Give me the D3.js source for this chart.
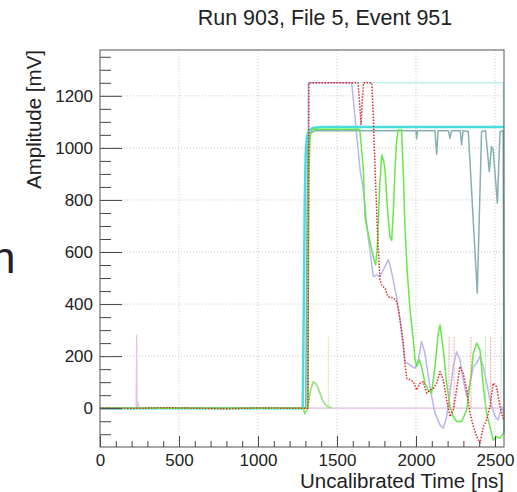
<!DOCTYPE html>
<html>
<head>
<meta charset="utf-8">
<script src="https://cdn.jsdelivr.net/npm/d3@7"></script>
<style>
  body { margin: 0; background: #fff; }
  text { font-family: "Liberation Sans", Arial, Helvetica, sans-serif; fill: #222; }
</style>
</head>
<body>
<svg id="chart" width="517" height="492"></svg>
<script>
// axis ticks
var xMajor = [0, 500, 1000, 1500, 2000, 2500];
var yMajor = [0, 200, 400, 600, 800, 1000, 1200];

// light cyan channel (saturated at 1250)
var lcyanT = [0, 1310, 1318, 2552, 2557];
var lcyanV = [0, 0, 1250, 1250, -96];

// pink channel, flat with a spike near 230 ns
var pinkT = [0, 228, 232, 235, 240, 248, 2557];
var pinkV = [0, 0, 282, 0, 25, 0, 0];

// lavender channel
var lavT = [0, 1316, 1320, 1593, 1646, 1667, 1697, 1719, 1730, 1751, 1772, 1793, 1825, 1835, 1856, 1877, 1899, 1930, 1962, 1994, 2015, 2035, 2057, 2078, 2099, 2120, 2152, 2173, 2194, 2215, 2236, 2257, 2278, 2299, 2321, 2342, 2363, 2384, 2405, 2426, 2447, 2468, 2500, 2521, 2542, 2555];
var lavV = [0, 0, 1250, 1250, 915, 838, 658, 557, 506, 512, 506, 531, 570, 551, 493, 429, 339, 179, 166, 154, 186, 256, 211, 121, 45, -19, -64, -77, -32, 58, 160, 217, 186, 109, 45, 96, 160, 173, 198, 160, 96, 32, -32, -45, 6, -20];

// cyan channel
var cyanT = [0, 1283, 1290, 1296, 1302, 1310, 1325, 1345, 1400, 2557];
var cyanV = [0, 0, 400, 800, 980, 1045, 1068, 1076, 1080, 1080];

// teal channel, with dips late in the window
var tealT = [0, 1302, 1310, 1316, 1330, 1360, 2000, 2004, 2010, 2120, 2131, 2140, 2205, 2215, 2225, 2280, 2289, 2298, 2331, 2388, 2415, 2440, 2464, 2478, 2489, 2515, 2532, 2552, 2557];
var tealV = [0, 0, 700, 1000, 1055, 1066, 1066, 1035, 1066, 1066, 975, 1066, 1066, 1037, 1066, 1066, 1011, 1066, 1063, 442, 1063, 1066, 909, 1005, 990, 788, 1063, 1066, -96];

// small green pulse
var gpulseT = [0, 1287, 1297, 1307, 1319, 1333, 1350, 1371, 1392, 1413, 1434, 1470];
var gpulseV = [0, 0, -22, -10, 19, 70, 102, 90, 58, 25, 9, 0];

// green channel
var greenT = [0, 1316, 1322, 1330, 1345, 1640, 1646, 1667, 1677, 1688, 1709, 1730, 1745, 1755, 1770, 1783, 1795, 1804, 1820, 1835, 1846, 1857, 1867, 1878, 1888, 1909, 1920, 1930, 1945, 1962, 1983, 1994, 2004, 2021, 2035, 2057, 2078, 2099, 2120, 2141, 2152, 2173, 2194, 2215, 2236, 2257, 2289, 2321, 2342, 2363, 2384, 2405, 2426, 2447, 2468, 2489, 2510, 2532, 2553];
var greenV = [0, 0, 900, 1050, 1072, 1072, 1060, 915, 736, 698, 640, 580, 551, 620, 850, 973, 950, 915, 760, 660, 644, 760, 915, 1030, 1069, 1069, 900, 700, 520, 380, 262, 186, 160, 186, 160, 96, 70, 58, 160, 288, 320, 224, 96, 6, -32, -51, -51, -7, 96, 211, 250, 224, 83, -19, -71, -122, -109, -115, -96];

// red channel (dotted)
var redT = [0, 200, 400, 600, 800, 1000, 1200, 1316, 1322, 1633, 1642, 1652, 1660, 1668, 1720, 1730, 1741, 1759, 1772, 1785, 1804, 1823, 1854, 1873, 1886, 1899, 1920, 1930, 1941, 1962, 1983, 2004, 2025, 2046, 2068, 2089, 2110, 2131, 2152, 2173, 2194, 2215, 2236, 2257, 2278, 2299, 2321, 2342, 2363, 2384, 2405, 2426, 2447, 2468, 2489, 2510, 2532, 2553];
var redV = [1, -1, 2, 0, -2, 1, 0, 0, 1250, 1250, 1180, 1090, 1180, 1250, 1250, 1120, 915, 640, 493, 470, 462, 428, 424, 416, 389, 339, 250, 173, 115, 109, 102, 70, 96, 102, 58, 70, 77, 96, 141, 109, 32, -32, -7, 70, 160, 134, 70, -19, -71, -109, -134, -71, -45, 6, 96, 83, 6, -45];

// thin vertical spikes
var spikeT = [1445, 2209, 2241, 2348, 2440, 2473, 2538];
var spikeTop = [277, 275, 275, 275, 275, 275, 275];
var spikeColor = ["#a8e890", "#f09090", "#f09090", "#f09090", "#a8e890", "#f09090", "#c0c0c0"];

var svg = d3.select("#chart");
var plotL = 100, plotR = 504, plotT = 50, plotB = 447;

var x = d3.scaleLinear().domain([0, 2557]).range([plotL, plotR]);
var y = d3.scaleLinear().domain([-149, 1376]).range([plotB, plotT]);

// grid
svg.append("g").selectAll("line").data(xMajor.slice(1)).join("line")
  .attr("x1", d => x(d)).attr("x2", d => x(d))
  .attr("y1", plotT).attr("y2", plotB)
  .attr("stroke", "#c8c8c8").attr("stroke-dasharray", "1,2");
svg.append("g").selectAll("line").data(yMajor).join("line")
  .attr("x1", plotL).attr("x2", plotR)
  .attr("y1", d => y(d)).attr("y2", d => y(d))
  .attr("stroke", "#c8c8c8").attr("stroke-dasharray", "1,2");

// line helper
var line = d3.line().x(d => x(d[0])).y(d => y(d[1]));
function drawTrace(ts, vs, color, width, dash) {
  var data = ts.map(function(t, i) { return [t, vs[i]]; });
  var p = svg.append("path")
    .datum(data)
    .attr("fill", "none")
    .attr("stroke", color)
    .attr("stroke-width", width)
    .attr("stroke-linejoin", "round")
    .attr("d", line);
  if (dash) p.attr("stroke-dasharray", dash);
}

drawTrace(pinkT, pinkV, "#e2c4e6", 1.2);
drawTrace(lcyanT, lcyanV, "#bff2f2", 1.5);
drawTrace(lavT, lavV, "#b8b8ee", 1.5);
drawTrace(cyanT, cyanV, "#48dede", 2.5);
drawTrace(tealT, tealV, "#86b0b0", 1.5);
drawTrace(gpulseT, gpulseV, "#8ee070", 1.5);
drawTrace(greenT, greenV, "#66e84a", 1.5);

// spikes
svg.append("g").selectAll("line").data(spikeT).join("line")
  .attr("x1", d => x(d)).attr("x2", d => x(d))
  .attr("y1", y(0)).attr("y2", (d, i) => y(spikeTop[i]))
  .attr("stroke", (d, i) => spikeColor[i])
  .attr("stroke-width", 1)
  .attr("stroke-dasharray", "2,1")
  .attr("opacity", 0.8);

drawTrace(redT, redV, "#dd2a2a", 1.5, "1.5,1.5");

// axes
var yAxis = d3.axisLeft(y).tickValues(yMajor).tickSize(-22).tickPadding(7).tickFormat(d3.format("d"));
var yMinor = d3.axisLeft(y).tickValues(d3.range(-100, 1376, 50).filter(v => v % 200 !== 0)).tickSize(-11).tickFormat("");
var xAxis = d3.axisBottom(x).tickValues(xMajor).tickSize(-11).tickPadding(7).tickFormat(d3.format("d"));
var xMinor = d3.axisBottom(x).tickValues(d3.range(100, 2557, 100).filter(v => v % 500 !== 0)).tickSize(-6).tickFormat("");

function styleAxis(g) {
  g.select(".domain").remove();
  g.selectAll(".tick line").attr("stroke", "#444");
  g.selectAll(".tick text").style("font-size", "17px").attr("fill", "#222");
}
svg.append("g").attr("transform", "translate(" + plotL + ",0)").call(yAxis).call(styleAxis);
svg.append("g").attr("transform", "translate(" + plotL + ",0)").call(yMinor).call(styleAxis);
svg.append("g").attr("transform", "translate(0," + plotB + ")").call(xAxis).call(styleAxis);
svg.append("g").attr("transform", "translate(0," + plotB + ")").call(xMinor).call(styleAxis);

// frame
svg.append("rect")
  .attr("x", plotL).attr("y", plotT)
  .attr("width", plotR - plotL).attr("height", plotB - plotT)
  .attr("fill", "none").attr("stroke", "#555").attr("stroke-width", 1);

// titles
svg.append("text").attr("x", 325).attr("y", 25).attr("text-anchor", "middle")
  .style("font-size", "21.5px").text("Run 903, File 5, Event 951");
svg.append("text").attr("x", 504).attr("y", 488).attr("text-anchor", "end")
  .style("font-size", "20.5px").text("Uncalibrated Time [ns]");
svg.append("text").attr("transform", "translate(41,50) rotate(-90)").attr("text-anchor", "end")
  .style("font-size", "20.5px").text("Amplitude [mV]");

// leftover slide text at the left edge
svg.append("text").attr("x", -9).attr("y", 273).style("font-size", "44px").attr("fill", "#111").text("n");
</script>
</body>
</html>
